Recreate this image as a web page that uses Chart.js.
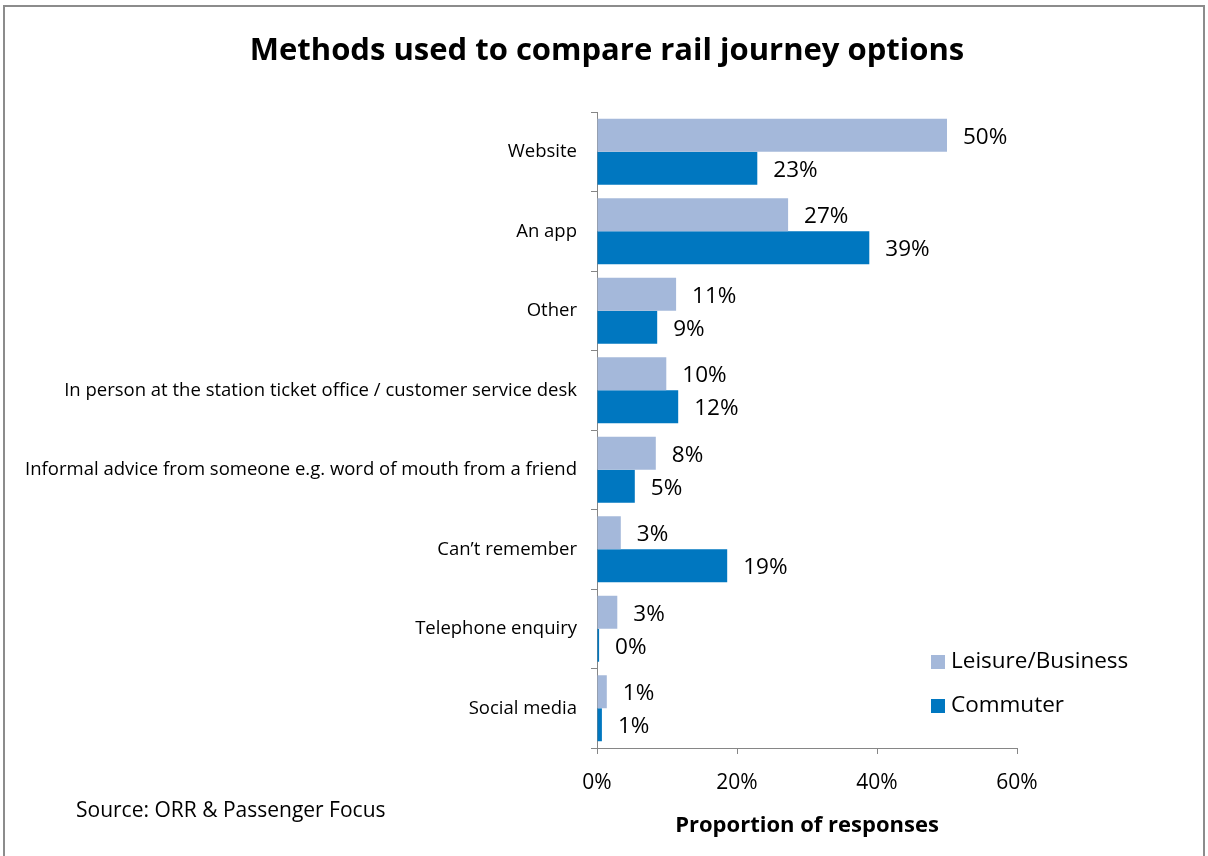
<!DOCTYPE html>
<html>
<head>
<meta charset="utf-8">
<script src="https://cdn.jsdelivr.net/npm/chart.js@4.4.1/dist/chart.umd.min.js"></script>
<style>
  html, body { margin: 0; padding: 0; background: #fff; }
  #wrap { width: 1208px; height: 856px; position: relative; }
</style>
</head>
<body>
<div id="wrap"><canvas id="chart" width="1208" height="856"></canvas></div>
<script>
// datos
const categories = [
  'Website',
  'An app',
  'Other',
  'In person at the station ticket office / customer service desk',
  'Informal advice from someone e.g. word of mouth from a friend',
  'Can\u2019t remember',
  'Telephone enquiry',
  'Social media'
];
const leisure = [50, 27.3, 11.3, 9.9, 8.4, 3.4, 2.9, 1.4];
const commuter = [22.9, 38.9, 8.6, 11.6, 5.4, 18.6, 0.3, 0.7];
const xTicks = [0, 20, 40, 60];

const FONT = '"Open Sans", "Noto Sans", sans-serif';
const AXIS_GREY = '#868686';

// fondo + marco + titulo + fuente + leyenda
const decor = {
  id: 'decor',
  beforeDraw(chart) {
    const ctx = chart.ctx;
    ctx.save();
    ctx.fillStyle = '#fff';
    ctx.fillRect(0, 0, chart.width, chart.height);
    ctx.strokeStyle = '#8c8c8c';
    ctx.lineWidth = 2;
    ctx.strokeRect(4, 6, 1200, 860);
    ctx.restore();
  },
  afterDraw(chart) {
    const ctx = chart.ctx;
    ctx.save();
    ctx.fillStyle = '#000';
    ctx.textBaseline = 'middle';
    ctx.textAlign = 'center';
    ctx.font = 'bold 31px ' + FONT;
    ctx.fillText('Methods used to compare rail journey options', 607, 51);
    ctx.textAlign = 'left';
    ctx.font = '21px ' + FONT;
    ctx.fillText('Source: ORR & Passenger Focus', 76, 811);

    // leyenda
    const items = chart.data.datasets;
    items.forEach((ds, i) => {
      const y = 662 + i * 44;
      ctx.fillStyle = ds.backgroundColor;
      ctx.fillRect(931, y - 7, 14, 14);
      ctx.fillStyle = '#000';
      ctx.font = '22.5px ' + FONT;
      ctx.fillText(ds.label, 951, y);
    });
    ctx.restore();
  }
};

// etiquetas de valor al final de cada barra
const valueLabels = {
  id: 'valueLabels',
  afterDatasetsDraw(chart) {
    const ctx = chart.ctx;
    ctx.save();
    ctx.fillStyle = '#000';
    ctx.font = '22.5px ' + FONT;
    ctx.textAlign = 'left';
    ctx.textBaseline = 'middle';
    chart.data.datasets.forEach((ds, di) => {
      const meta = chart.getDatasetMeta(di);
      meta.data.forEach((bar, i) => {
        ctx.fillText(Math.round(ds.data[i]) + '%', bar.x + 16, bar.y + 2);
      });
    });
    ctx.restore();
  }
};

new Chart(document.getElementById('chart'), {
  type: 'bar',
  data: {
    labels: categories,
    datasets: [
      { label: 'Leisure/Business', data: leisure, backgroundColor: '#a4b8da' },
      { label: 'Commuter', data: commuter, backgroundColor: '#0077c0' }
    ]
  },
  options: {
    indexAxis: 'y',
    responsive: false,
    animation: false,
    devicePixelRatio: 1,
    layout: { padding: { left: 0, top: 112, right: 191, bottom: 0 } },
    datasets: { bar: { categoryPercentage: 0.83, barPercentage: 1 } },
    plugins: {
      legend: { display: false },
      tooltip: { enabled: false },
      title: { display: false }
    },
    scales: {
      x: {
        min: 0, max: 60,
        afterFit(scale) { scale.height = 108; },
        afterBuildTicks(scale) { scale.ticks = xTicks.map(v => ({ value: v })); },
        border: { display: true, color: AXIS_GREY, width: 1 },
        grid: { drawOnChartArea: false, drawTicks: true, tickLength: 6, tickColor: AXIS_GREY },
        ticks: {
          color: '#000',
          font: { family: FONT, size: 21 },
          padding: 16,
          callback: v => v + '%'
        },
        title: {
          display: true,
          text: 'Proportion of responses',
          color: '#000',
          font: { family: FONT, size: 22, weight: 'bold' },
          padding: { top: 0, bottom: 17 }
        }
      },
      y: {
        afterFit(scale) { scale.width = 597; },
        border: { display: true, color: AXIS_GREY, width: 1 },
        grid: { offset: true, drawOnChartArea: false, drawTicks: true, tickLength: 6, tickColor: AXIS_GREY },
        ticks: {
          color: '#000',
          font: { family: FONT, size: 18.5 },
          padding: 14,
          autoSkip: false
        }
      }
    }
  },
  plugins: [decor, valueLabels]
});
</script>
</body>
</html>
